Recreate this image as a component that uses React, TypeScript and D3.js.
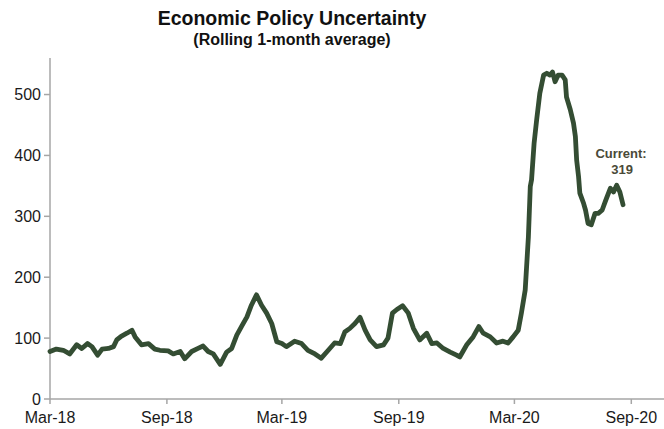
import React from "react";
import * as d3 from "d3";

const dates: string[] = [
  "2018-03-01","2018-03-11","2018-03-22","2018-04-01","2018-04-12","2018-04-20","2018-04-29","2018-05-06",
  "2018-05-15","2018-05-22","2018-06-01","2018-06-09","2018-06-14","2018-06-21","2018-06-30","2018-07-08",
  "2018-07-13","2018-07-23","2018-08-03","2018-08-13","2018-08-21","2018-09-03","2018-09-11","2018-09-22",
  "2018-09-29","2018-10-10","2018-10-20","2018-10-28","2018-11-05","2018-11-13","2018-11-24","2018-12-04",
  "2018-12-12","2018-12-20","2018-12-28","2019-01-05","2019-01-12","2019-01-20","2019-01-28","2019-02-05",
  "2019-02-13","2019-02-21","2019-03-01","2019-03-08","2019-03-21","2019-04-01","2019-04-11","2019-04-22",
  "2019-05-02","2019-05-13","2019-05-23","2019-06-01","2019-06-08","2019-06-16","2019-06-24","2019-07-02",
  "2019-07-10","2019-07-18","2019-07-28","2019-08-08","2019-08-15","2019-08-22","2019-08-29","2019-09-07",
  "2019-09-16","2019-09-24","2019-10-04","2019-10-15","2019-10-23","2019-10-31","2019-11-10","2019-11-21",
  "2019-12-01","2019-12-06","2019-12-17","2019-12-27","2020-01-05","2020-01-12","2020-01-23","2020-02-02",
  "2020-02-12","2020-02-20","2020-02-28","2020-03-07","2020-03-12","2020-03-18","2020-03-23","2020-03-26",
  "2020-03-28","2020-04-01","2020-04-05","2020-04-10","2020-04-16","2020-04-21","2020-04-26","2020-04-30",
  "2020-05-04","2020-05-09","2020-05-15","2020-05-20","2020-05-22","2020-05-28","2020-06-02","2020-06-05",
  "2020-06-07","2020-06-10","2020-06-12","2020-06-18","2020-06-21","2020-06-25","2020-06-30","2020-07-06",
  "2020-07-11","2020-07-17","2020-07-23","2020-07-30","2020-08-04","2020-08-09","2020-08-14","2020-08-19"
];

const values: number[] = [
  78,82,80,74,89,83,91,86,
  72,82,83,86,97,103,108,113,
  102,89,91,82,80,79,74,78,
  66,78,83,87,78,74,57,77,
  83,105,120,135,154,171,154,141,
  124,94,91,86,95,91,80,74,
  67,80,92,91,110,116,124,134,
  113,97,86,89,100,141,147,153,
  141,116,97,108,91,92,83,77,
  72,69,89,102,119,108,102,92,
  95,92,102,113,141,179,266,349,
  360,420,458,502,532,535,532,537,
  521,532,532,524,496,475,453,431,
  392,365,338,321,310,288,286,305,
  305,310,327,346,340,351,340,319
];

const yTicks: number[] = [0, 100, 200, 300, 400, 500];
const xTickDates: string[] = ["2018-03-01","2018-09-01","2019-03-01","2019-09-01","2020-03-01","2020-09-01"];
const xTickLabels: string[] = ["Mar-18","Sep-18","Mar-19","Sep-19","Mar-20","Sep-20"];
const currentLabel = "Current:";
const currentValue = "319";

export default function App() {
  const W = 664, H = 429;
  const left = 50, right = 631.3, top = 58, bottom = 399;
  const parse = d3.utcParse("%Y-%m-%d");
  const x = d3.scaleUtc()
    .domain([parse("2018-03-01")!, parse("2020-09-01")!])
    .range([left, right]);
  const y = d3.scaleLinear().domain([0, 560]).range([bottom, top]);
  const data = dates.map((d, i) => ({ d: parse(d)!, v: values[i] }));
  const line = d3.line<{ d: Date; v: number }>()
    .x((p) => x(p.d))
    .y((p) => y(p.v))
    .curve(d3.curveLinear);
  const font = "'Liberation Sans', Arial, sans-serif";
  const axisColor = "#a6a6a6";
  const last = data[data.length - 1];

  return (
    <svg width={W} height={H} style={{ position: "absolute", left: 0, top: 0, background: "#fff" }} fontFamily={font}>
      <text x={292} y={25} textAnchor="middle" fontSize={19.5} fontWeight="bold" fill="#111">Economic Policy Uncertainty</text>
      <text x={292} y={45} textAnchor="middle" fontSize={16} fontWeight="bold" fill="#111">(Rolling 1-month average)</text>

      <line x1={left} x2={left} y1={top} y2={bottom} stroke={axisColor} strokeWidth={1.5} />
      <line x1={left} x2={W} y1={bottom} y2={bottom} stroke={axisColor} strokeWidth={1.5} />
      {yTicks.map((t) => (
        <g key={t}>
          <line x1={left - 6} x2={left} y1={y(t)} y2={y(t)} stroke={axisColor} strokeWidth={1.5} />
          <text x={left - 9} y={y(t)} dy="0.35em" textAnchor="end" fontSize={16} fill="#1a1a1a">{t}</text>
        </g>
      ))}
      {xTickDates.map((d, i) => {
        const xx = x(parse(d)!);
        return (
          <g key={d}>
            <line x1={xx} x2={xx} y1={bottom} y2={bottom + 5} stroke={axisColor} strokeWidth={1.5} />
            <text x={xx} y={423} textAnchor="middle" fontSize={16} fill="#1a1a1a">{xTickLabels[i]}</text>
          </g>
        );
      })}

      <path d={line(data) || ""} fill="none" stroke="#344d33" strokeWidth={4.8} strokeLinejoin="round" strokeLinecap="round" />

      <text x={x(last.d) - 2} y={158} textAnchor="middle" fontSize={13} fontWeight="bold" fill="#4a4a38">{currentLabel}</text>
      <text x={x(last.d) - 1} y={174} textAnchor="middle" fontSize={13} fontWeight="bold" fill="#4a4a38">{currentValue}</text>
    </svg>
  );
}
